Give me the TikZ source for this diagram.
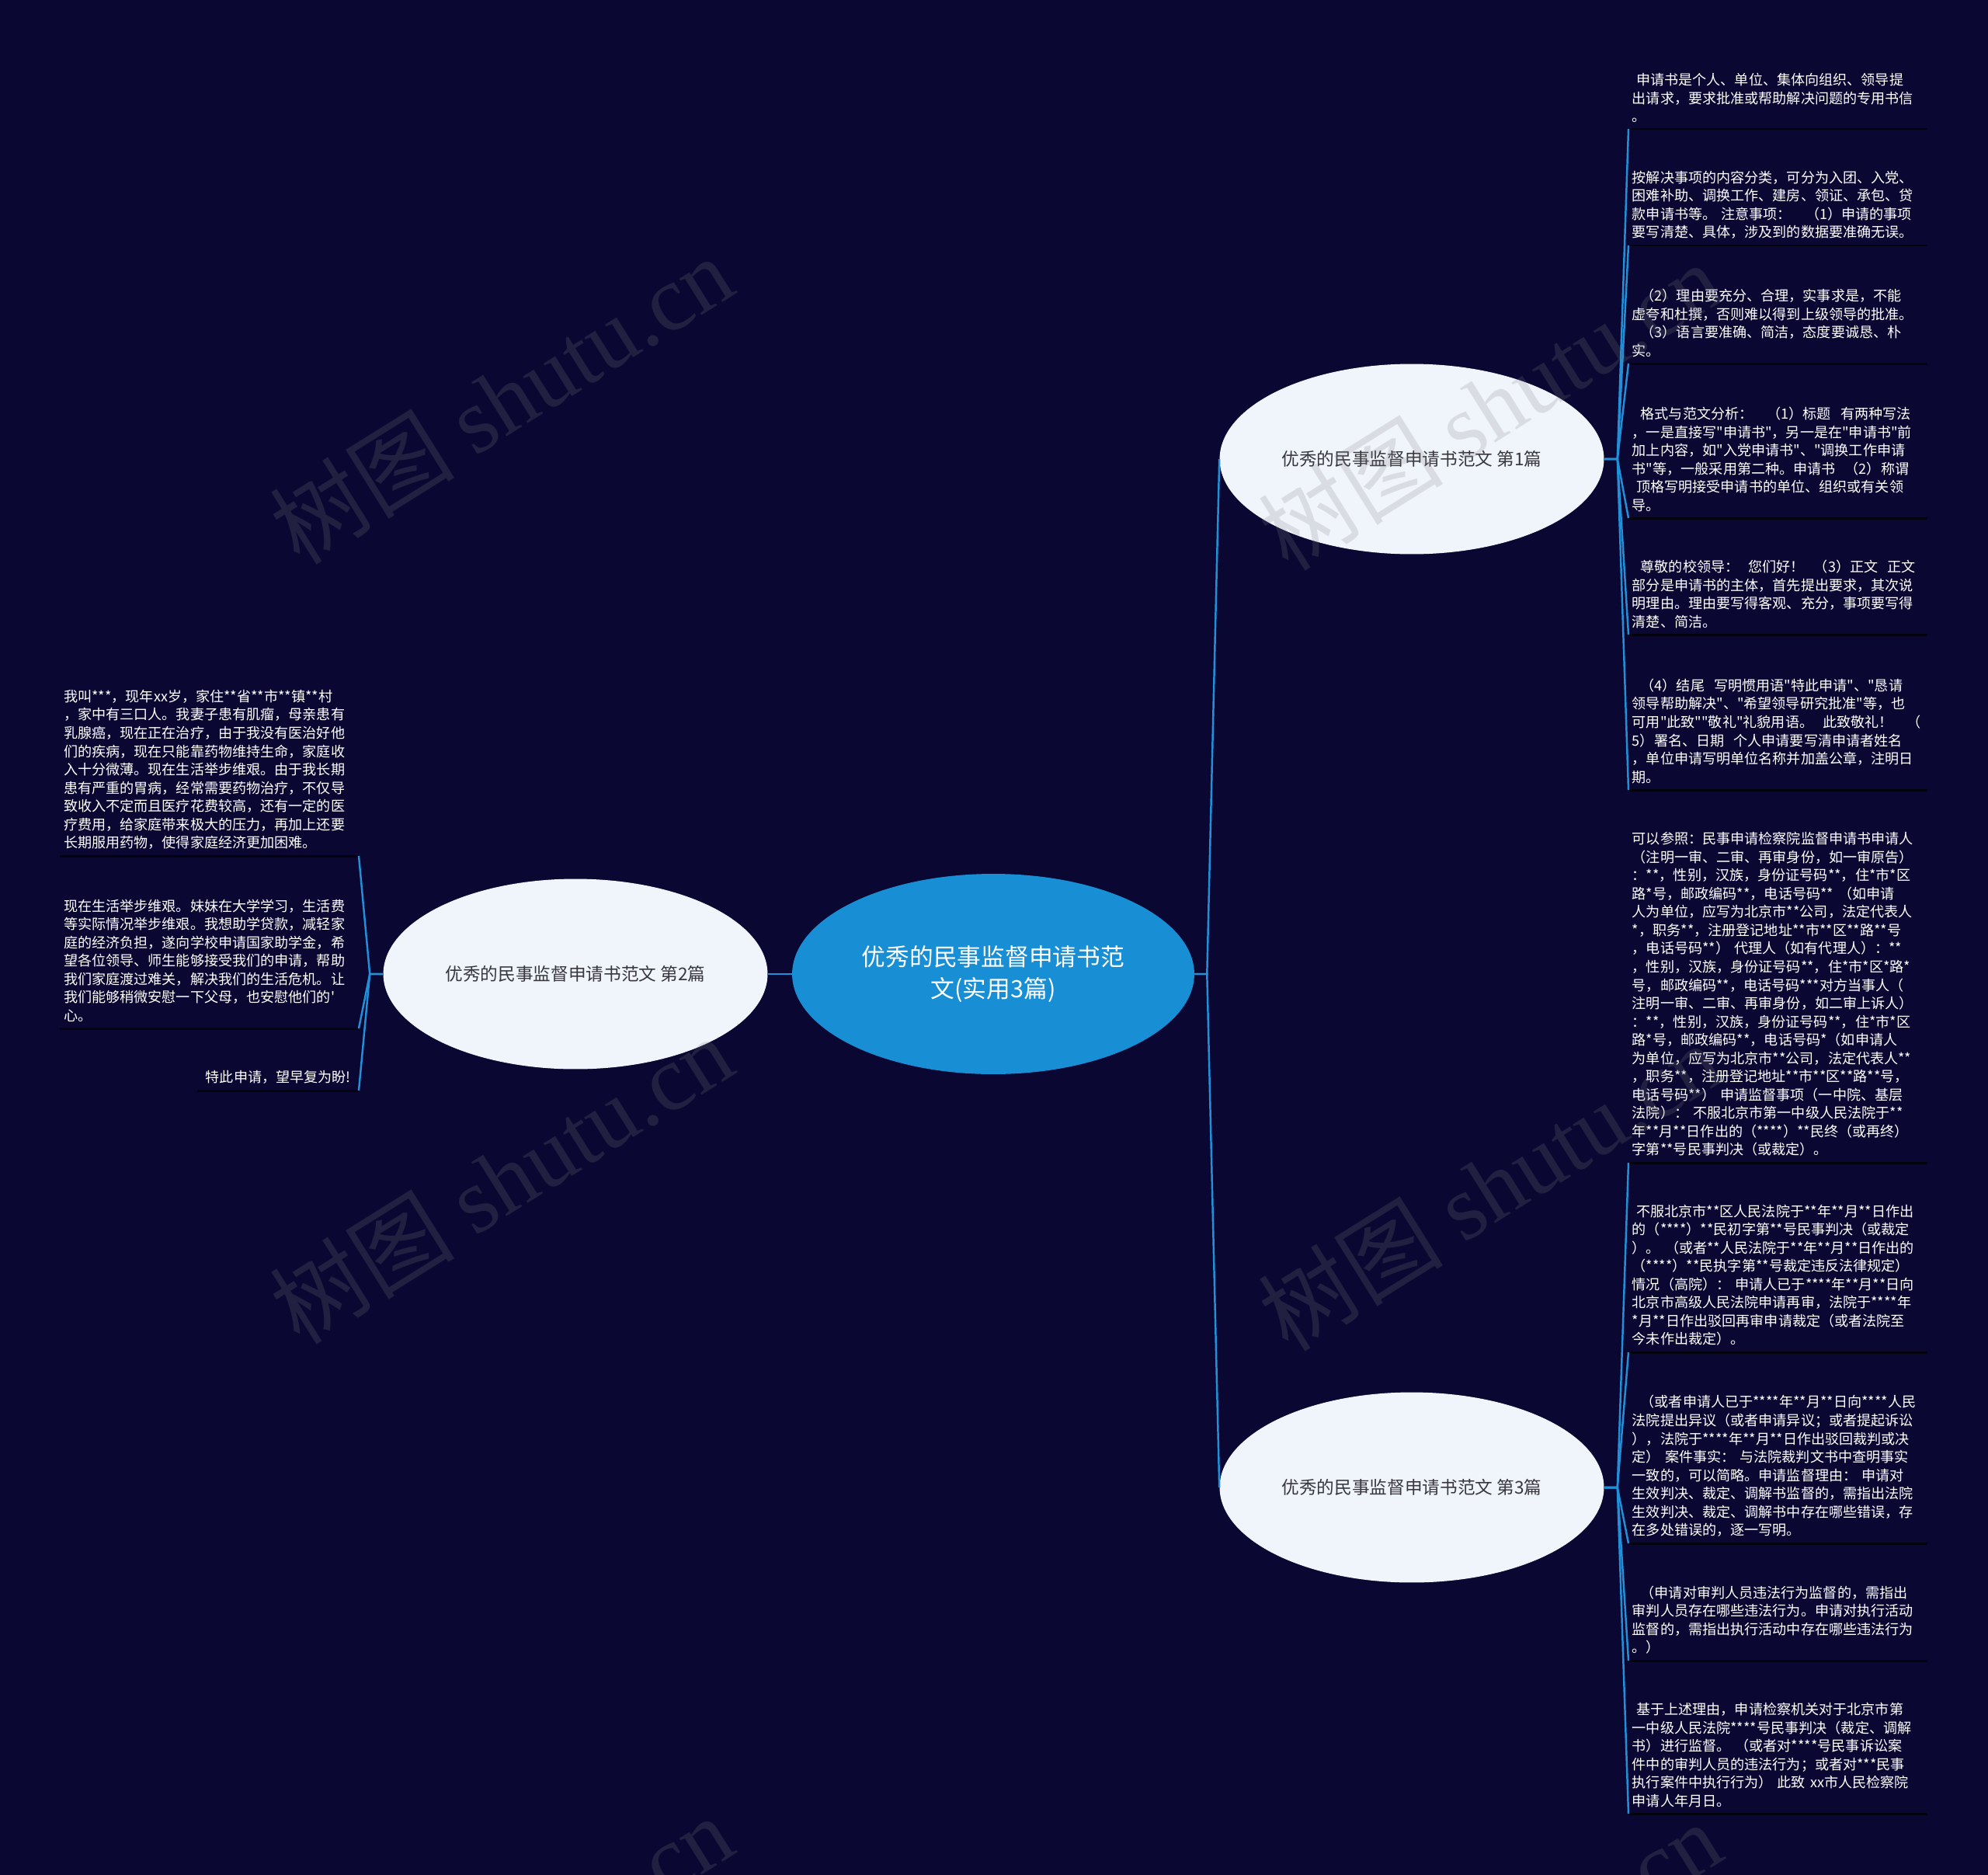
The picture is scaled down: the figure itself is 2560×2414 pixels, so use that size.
\documentclass[tikz,border=0pt]{standalone}
\usepackage{fontspec}
\setmainfont{Noto Sans CJK SC}[Ligatures=TeXOff]
\newfontfamily\wmfont{Liberation Serif}
\usetikzlibrary{shapes.geometric}
\definecolor{bgnavy}{RGB}{10,8,50}
\definecolor{linkblue}{RGB}{34,144,216}
\definecolor{rootblue}{RGB}{24,142,212}
\definecolor{branchfill}{RGB}{240,245,252}
\definecolor{branchtext}{RGB}{55,55,60}
\definecolor{rulecol}{RGB}{3,3,14}
\tikzset{
  root/.style={ellipse, fill=rootblue, text=white, minimum width=10.36cm, minimum height=5.16cm, inner sep=0pt, align=center, font=\fontsize{17.5pt}{23pt}\selectfont},
  branch/.style={ellipse, fill=branchfill, text=branchtext, minimum width=9.9cm, minimum height=4.9cm, inner sep=0pt, font=\fontsize{12.9pt}{15pt}\selectfont},
  tagleaf/.style={text=white, align=left, inner xsep=0.2cm, inner ysep=0.16cm, font=\fontsize{10.3pt}{13.4pt}\selectfont},
  leaf/.style={tagleaf, text width=7.5cm, inner xsep=0.09cm},
  link/.style={draw=linkblue, line width=1.4pt},
  rule/.style={draw=rulecol, line width=1.7pt},
  wmark/.style={text=gray, opacity=0.2, rotate=32, font=\fontsize{68pt}{68pt}\selectfont}
}
\begin{document}
\begin{tikzpicture}[x=0.02cm, y=-0.02cm]
\path [use as bounding box] (0,0) rectangle (2560,2414);
\fill [bgnavy] (0,0) rectangle (2560,2414);

\node [root] (ctr) at (1279,1254) {优秀的民事监督申请书范\\文(实用3篇)};
\node [branch] (b1) at (1818,591) {优秀的民事监督申请书范文 第1篇};
\node [branch] (b2) at (741,1254) {优秀的民事监督申请书范文 第2篇};
\node [branch] (b3) at (1818,1915) {优秀的民事监督申请书范文 第3篇};

% 第1篇
\node [leaf, anchor=south west] (l1) at (2097,166) {\hspace*{0.3em}申请书是个人、单位、集体向组织、领导提\\出请求，要求批准或帮助解决问题的专用书信\\。};
\node [leaf, anchor=south west] (l2) at (2097,316) {按解决事项的内容分类，可分为入团、入党、\\困难补助、调换工作、建房、领证、承包、贷\\款申请书等。~注意事项：~~~（1）申请的事项\\要写清楚、具体，涉及到的数据要准确无误。};
\node [leaf, anchor=south west] (l3) at (2097,468) {\hspace*{0.6em}（2）理由要充分、合理，实事求是，不能\\虚夸和杜撰，否则难以得到上级领导的批准。\\\hspace*{0.6em}（3）语言要准确、简洁，态度要诚恳、朴\\实。};
\node [leaf, anchor=south west] (l4) at (2097,667) {\hspace*{0.6em}格式与范文分析：~~~（1）标题~~有两种写法\\，一是直接写"申请书"，另一是在"申请书"前\\加上内容，如"入党申请书"、"调换工作申请\\书"等，一般采用第二种。申请书~~（2）称谓\\\hspace*{0.3em}顶格写明接受申请书的单位、组织或有关领\\导。};
\node [leaf, anchor=south west] (l5) at (2097,817) {\hspace*{0.6em}尊敬的校领导：~~您们好！~~（3）正文~~正文\\部分是申请书的主体，首先提出要求，其次说\\明理由。理由要写得客观、充分，事项要写得\\清楚、简洁。};
\node [leaf, anchor=south west] (l6) at (2097,1017) {\hspace*{0.6em}（4）结尾~~写明惯用语"特此申请"、"恳请\\领导帮助解决"、"希望领导研究批准"等，也\\可用"此致""敬礼"礼貌用语。~~此致敬礼！~~~（\\5）署名、日期~~个人申请要写清申请者姓名\\，单位申请写明单位名称并加盖公章，注明日\\期。};

% 第3篇
\node [leaf, anchor=south west] (l7) at (2097,1497) {可以参照：民事申请检察院监督申请书申请人\\（注明一审、二审、再审身份，如一审原告）\\：**，性别，汉族，身份证号码**，住*市*区\\*路*号，邮政编码**，电话号码**~（如申请\\人为单位，应写为北京市**公司，法定代表人\\**，职务**，注册登记地址**市**区**路**号\\，电话号码**）~代理人（如有代理人）：**\\，性别，汉族，身份证号码**，住*市*区*路*\\号，邮政编码**，电话号码***对方当事人（\\注明一审、二审、再审身份，如二审上诉人）\\：**，性别，汉族，身份证号码**，住*市*区\\*路*号，邮政编码**，电话号码*（如申请人\\为单位，应写为北京市**公司，法定代表人**\\，职务**，注册登记地址**市**区**路**号，\\电话号码**）~申请监督事项（一中院、基层\\法院）：~不服北京市第一中级人民法院于**\\年**月**日作出的（****）**民终（或再终）\\字第**号民事判决（或裁定）。};
\node [leaf, anchor=south west] (l8) at (2097,1741) {\hspace*{0.3em}不服北京市**区人民法院于**年**月**日作出\\的（****）**民初字第**号民事判决（或裁定\\）。~（或者**人民法院于**年**月**日作出的\\（****）**民执字第**号裁定违反法律规定）\\情况（高院）：~申请人已于****年**月**日向\\北京市高级人民法院申请再审，法院于****年\\**月**日作出驳回再审申请裁定（或者法院至\\今未作出裁定）。};
\node [leaf, anchor=south west] (l9) at (2097,1987) {\hspace*{0.6em}（或者申请人已于****年**月**日向****人民\\法院提出异议（或者申请异议；或者提起诉讼\\），法院于****年**月**日作出驳回裁判或决\\定）~案件事实：~与法院裁判文书中查明事实\\一致的，可以简略。申请监督理由：~申请对\\生效判决、裁定、调解书监督的，需指出法院\\生效判决、裁定、调解书中存在哪些错误，存\\在多处错误的，逐一写明。};
\node [leaf, anchor=south west] (l10) at (2097,2138) {\hspace*{0.6em}（申请对审判人员违法行为监督的，需指出\\审判人员存在哪些违法行为。申请对执行活动\\监督的，需指出执行活动中存在哪些违法行为\\。）};
\node [leaf, anchor=south west] (l11) at (2097,2335) {\hspace*{0.3em}基于上述理由，申请检察机关对于北京市第\\一中级人民法院****号民事判决（裁定、调解\\书）进行监督。~（或者对****号民事诉讼案\\件中的审判人员的违法行为；或者对***民事\\执行案件中执行行为）~此致~xx市人民检察院\\申请人年月日。};

% 第2篇
\node [leaf, anchor=south east] (l12) at (462,1102) {我叫***，现年xx岁，家住**省**市**镇**村\\，家中有三口人。我妻子患有肌瘤，母亲患有\\乳腺癌，现在正在治疗，由于我没有医治好他\\们的疾病，现在只能靠药物维持生命，家庭收\\入十分微薄。现在生活举步维艰。由于我长期\\患有严重的胃病，经常需要药物治疗，不仅导\\致收入不定而且医疗花费较高，还有一定的医\\疗费用，给家庭带来极大的压力，再加上还要\\长期服用药物，使得家庭经济更加困难。};
\node [leaf, anchor=south east] (l13) at (462,1324) {现在生活举步维艰。妹妹在大学学习，生活费\\等实际情况举步维艰。我想助学贷款，减轻家\\庭的经济负担，遂向学校申请国家助学金，希\\望各位领导、师生能够接受我们的申请，帮助\\我们家庭渡过难关，解决我们的生活危机。让\\我们能够稍微安慰一下父母，也安慰他们的'\\心。};
\node [tagleaf, anchor=south east] (l14) at (462,1404) {特此申请，望早复为盼!};

\foreach \n in {l1,l2,l3,l4,l5,l6,l7,l8,l9,l10,l11,l12,l13,l14}
  \draw [rule] (\n.south west) -- (\n.south east);

\draw [link] (ctr.east) -- ++(16,0) -- (b1.west);
\draw [link] (ctr.east) -- ++(16,0) -- (b3.west);
\draw [link] (ctr.west) -- (b2.east);
\foreach \n in {l1,l2,l3,l4,l5,l6}
  \draw [link] (b1.east) -- ++(17,0) -- (\n.south west);
\foreach \n in {l7,l8,l9,l10,l11}
  \draw [link] (b3.east) -- ++(17,0) -- (\n.south west);
\foreach \n in {l12,l13,l14}
  \draw [link] (b2.west) -- ++(-17,0) -- (\n.south east);

% watermark
\node [wmark] (wm1) at (645,514) {树图 {\wmfont shutu.cn}};
\node [wmark] (wm2) at (1918,522) {树图 {\wmfont shutu.cn}};
\node [wmark] (wm3) at (645,1518) {树图 {\wmfont shutu.cn}};
\node [wmark] (wm4) at (1918,1527) {树图 {\wmfont shutu.cn}};
\node [wmark] (wm5) at (645,2522) {树图 {\wmfont shutu.cn}};
\node [wmark] (wm6) at (1918,2530) {树图 {\wmfont shutu.cn}};
\end{tikzpicture}
\end{document}
